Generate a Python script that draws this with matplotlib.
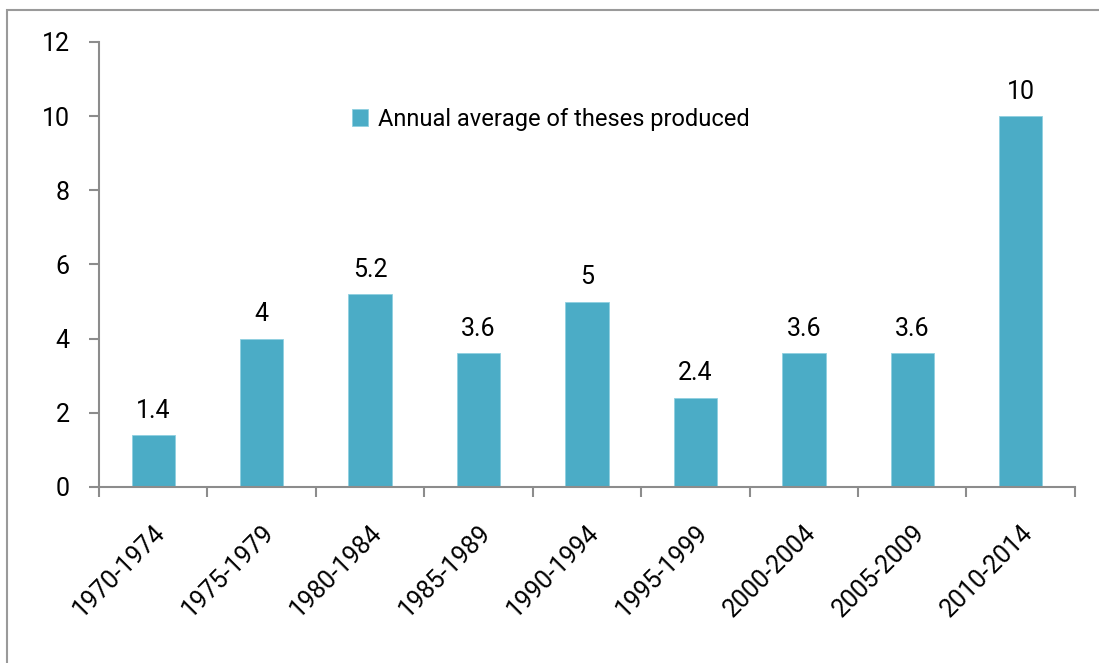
import matplotlib.pyplot as plt
import numpy as np
from matplotlib.patches import Rectangle

periods = ['1970-1974', '1975-1979', '1980-1984', '1985-1989', '1990-1994',
           '1995-1999', '2000-2004', '2005-2009', '2010-2014']
theses = [1.4, 4, 5.2, 3.6, 5, 2.4, 3.6, 3.6, 10]
value_labels = ['1.4', '4', '5.2', '3.6', '5', '2.4', '3.6', '3.6', '10']
y_ticks = [0, 2, 4, 6, 8, 10, 12]

plt.rcParams['font.family'] = ['Roboto', 'DejaVu Sans']
fs = 18

fig = plt.figure(figsize=(10.99, 6.63), dpi=100)
# outer frame like the spreadsheet chart area
fig.patches.append(Rectangle((0.0064, -0.05), 1.1, 1.035, transform=fig.transFigure,
                             fill=False, edgecolor='#9a9a9a', linewidth=1.5))
ax = fig.add_axes([0.0901, 0.2655, 0.888, 0.6712])

x = np.arange(len(periods))
bars = ax.bar(x, theses, width=0.4, color='#4BACC6', edgecolor='#8fd0e0', linewidth=0.6,
              label='Annual average of theses produced')

for xi, v, lab in zip(x, theses, value_labels):
    ax.annotate(lab, (xi, v), xytext=(0, 9), textcoords='offset points',
                ha='center', va='bottom', fontsize=fs, color='black')

ax.set_xlim(-0.5, len(periods) - 0.5)
ax.set_ylim(0, 12)
ax.set_yticks(y_ticks)
ax.set_yticklabels([str(t) for t in y_ticks], fontsize=fs)
ax.set_xticks(x)
ax.set_xticklabels(periods, fontsize=fs, rotation=45, ha='right', rotation_mode='anchor')
ax.set_xticks(np.arange(-0.5, len(periods)), minor=True)

ax.tick_params(axis='x', which='major', length=0, pad=24)
ax.tick_params(axis='x', which='minor', length=7, width=1.5, color='#8c8c8c', direction='out')
ax.tick_params(axis='y', length=7, width=1.5, color='#8c8c8c', direction='out', pad=14)

ax.spines['top'].set_visible(False)
ax.spines['right'].set_visible(False)
ax.spines['left'].set_color('#8c8c8c')
ax.spines['bottom'].set_color('#8c8c8c')
ax.spines['left'].set_linewidth(1.5)
ax.spines['bottom'].set_linewidth(1.5)

ax.legend(loc='upper left', bbox_to_anchor=(0.237, 0.90), frameon=False, fontsize=17,
          handlelength=0.7, handleheight=0.7, handletextpad=0.4)

fig.savefig('out.png', dpi=100)
